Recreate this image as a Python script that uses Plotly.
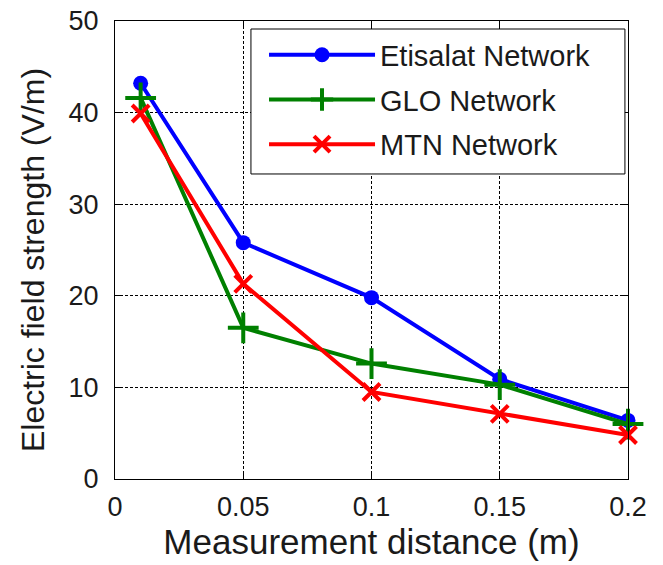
import plotly.graph_objects as go

distance = [0.01, 0.05, 0.1, 0.15, 0.2]
etisalat = [43.2, 25.8, 19.8, 10.9, 6.4]
glo = [41.6, 16.5, 12.6, 10.3, 6.0]
mtn = [39.9, 21.3, 9.5, 7.1, 4.8]

series = [
    ("Etisalat Network", etisalat, "#0000FF", "circle", 15),
    ("GLO Network", glo, "#008000", "cross-thin", 22),
    ("MTN Network", mtn, "#FF0000", "x-thin", 17),
]

FONT = "Liberation Sans, Arial, sans-serif"
TXT = "#1a1a1a"

fig = go.Figure()
for i, (name, vals, color, sym, size) in enumerate(series):
    fig.add_trace(go.Scatter(
        x=distance, y=vals, name=name, mode="lines+markers",
        legendgroup=f"g{i}",
        line=dict(color=color, width=4),
        marker=dict(symbol=sym, size=size, color=color,
                    line=dict(color=color, width=4 if sym != "circle" else 0)),
        cliponaxis=False,
    ))

axis_common = dict(
    showline=True, linecolor="black", linewidth=1, mirror="ticks",
    ticks="inside", ticklen=5, tickcolor="black",
    showgrid=True, gridcolor="black", gridwidth=1, griddash="3px,2px",
    zeroline=False,
    tickfont=dict(family=FONT, size=27, color=TXT),
)

fig.update_xaxes(
    range=[0, 0.2], tickvals=[0, 0.05, 0.1, 0.15, 0.2],
    ticktext=["0", "0.05", "0.1", "0.15", "0.2"],
    title=dict(text="Measurement distance (m)", font=dict(family=FONT, size=35, color=TXT), standoff=6),
    ticklabelstandoff=4,
    **axis_common,
)
fig.update_yaxes(
    range=[0, 50], tickvals=[0, 10, 20, 30, 40, 50],
    ticklabelstandoff=10,
    **axis_common,
)

# y-axis title as an annotation to match the reference's vertical offset
fig.add_annotation(
    text="Electric field strength (V/m)", textangle=-90,
    xref="paper", yref="paper", x=0, y=0.478, xanchor="center", yanchor="middle",
    xshift=-82, showarrow=False,
    font=dict(family=FONT, size=32, color=TXT),
)

# opaque legend frame (wider than plotly's auto-sized legend box)
fig.add_shape(
    type="rect", xref="paper", yref="paper",
    x0=0.265, x1=0.994, y0=0.666, y1=0.9825,
    fillcolor="white", line=dict(color="black", width=1), layer="above",
)

fig.update_layout(
    width=663, height=565,
    margin=dict(l=115, r=35, t=21, b=86, autoexpand=False),
    paper_bgcolor="white", plot_bgcolor="white",
    showlegend=True,
    legend=dict(
        x=0.2905, y=0.9816, xanchor="left", yanchor="top",
        bgcolor="rgba(0,0,0,0)", borderwidth=0,
        font=dict(family=FONT, size=29, color=TXT),
        itemwidth=106, tracegroupgap=4,
    ),
)

fig.write_html("out.html")
